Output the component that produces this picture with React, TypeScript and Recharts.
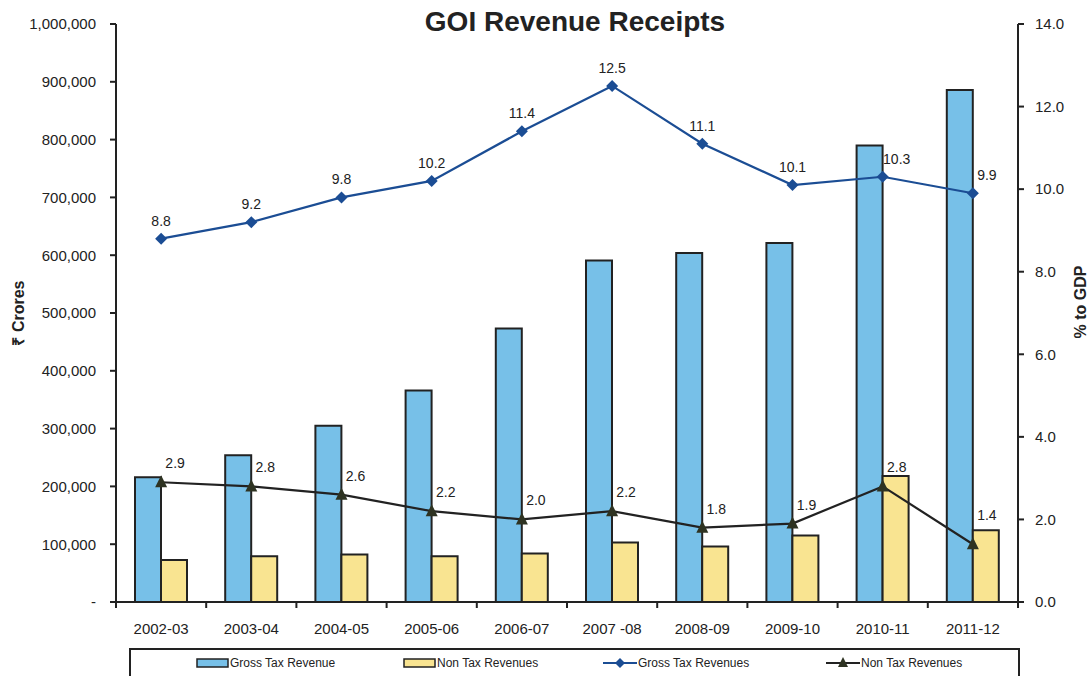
import {
  ComposedChart,
  Bar,
  Line,
  XAxis,
  YAxis,
  LabelList,
} from "recharts";

const categories = [
  "2002-03",
  "2003-04",
  "2004-05",
  "2005-06",
  "2006-07",
  "2007 -08",
  "2008-09",
  "2009-10",
  "2010-11",
  "2011-12",
];
const grossTax = [216000, 254000, 305000, 366000, 473000, 591000, 604000, 621000, 790000, 886000];
const nonTax = [72500, 79000, 82000, 79000, 84000, 103000, 96000, 115000, 218000, 124000];
const grossTaxGdp = [8.8, 9.2, 9.8, 10.2, 11.4, 12.5, 11.1, 10.1, 10.3, 9.9];
const nonTaxGdp = [2.9, 2.8, 2.6, 2.2, 2.0, 2.2, 1.8, 1.9, 2.8, 1.4];

const leftTicks = [0, 100000, 200000, 300000, 400000, 500000, 600000, 700000, 800000, 900000, 1000000];
const rightTicks = [0, 2, 4, 6, 8, 10, 12, 14];

const data = categories.map((year, i) => ({
  year,
  grossTax: grossTax[i],
  nonTax: nonTax[i],
  grossTaxGdp: grossTaxGdp[i],
  nonTaxGdp: nonTaxGdp[i],
}));

const FONT = "'Liberation Sans', Arial, Helvetica, sans-serif";
const INK = "#222";
const BLUE_FILL = "#77C0E8";
const YELLOW_FILL = "#F9E491";
const LINE_BLUE = "#1B4D94";
const LINE_DARK = "#222";
const TRI_FILL = "#2E3322";

const PLOT_W = 902;
const HALF_BAND = PLOT_W / categories.length / 2;

const XTick = (props: any) => {
  const { x, y, payload, index } = props;
  return (
    <g>
      <line x1={x - HALF_BAND} x2={x - HALF_BAND} y1={y} y2={y + 6} stroke={INK} strokeWidth={2} />
      {index === categories.length - 1 && (
        <line x1={x + HALF_BAND} x2={x + HALF_BAND} y1={y} y2={y + 6} stroke={INK} strokeWidth={2} />
      )}
      <text x={x} y={y + 32} textAnchor="middle" fontSize={15} fill={INK} fontFamily={FONT}>
        {payload.value}
      </text>
    </g>
  );
};

const Diamond = (props: any) => {
  const { cx, cy } = props;
  if (cx == null || cy == null) return null;
  return (
    <polygon
      points={`${cx},${cy - 6} ${cx + 6},${cy} ${cx},${cy + 6} ${cx - 6},${cy}`}
      fill={LINE_BLUE}
    />
  );
};

const Triangle = (props: any) => {
  const { cx, cy } = props;
  if (cx == null || cy == null) return null;
  return (
    <polygon
      points={`${cx},${cy - 7} ${cx + 6},${cy + 5} ${cx - 6},${cy + 5}`}
      fill={TRI_FILL}
    />
  );
};

const blueLabel = (props: any) => {
  const { x, y, value, index } = props;
  const dx = index >= 8 ? 14 : 0;
  return (
    <text x={x + dx} y={y - 13} textAnchor="middle" fontSize={14} fill={INK} fontFamily={FONT}>
      {Number(value).toFixed(1)}
    </text>
  );
};

const darkLabel = (props: any) => {
  const { x, y, value, index } = props;
  // last label sits higher above its marker in the original
  const dy = index === categories.length - 1 ? -24 : -14;
  return (
    <text x={x + 14} y={y + dy} textAnchor="middle" fontSize={14} fill={INK} fontFamily={FONT}>
      {Number(value).toFixed(1)}
    </text>
  );
};

const LegendItem = ({ left, icon, text }: { left: number; icon: any; text: string }) => (
  <div
    style={{
      position: "absolute",
      left,
      top: 0,
      height: 26,
      display: "flex",
      alignItems: "center",
      fontSize: 12,
      color: INK,
      fontFamily: FONT,
      whiteSpace: "nowrap",
    }}
  >
    {icon}
    <span style={{ marginLeft: 1 }}>{text}</span>
  </div>
);

const barIcon = (fill: string) => (
  <svg width={33} height={10}>
    <rect x={1} y={1} width={31} height={8} fill={fill} stroke={INK} strokeWidth={1.5} />
  </svg>
);

const lineIcon = (kind: "diamond" | "triangle") => (
  <svg width={34} height={14}>
    <line x1={0} x2={34} y1={7} y2={7} stroke={kind === "diamond" ? LINE_BLUE : LINE_DARK} strokeWidth={2} />
    {kind === "diamond" ? (
      <polygon points="17,2 22,7 17,12 12,7" fill={LINE_BLUE} />
    ) : (
      <polygon points="17,1 22,11 12,11" fill={TRI_FILL} />
    )}
  </svg>
);

export default function App() {
  return (
    <div
      style={{
        position: "absolute",
        left: 0,
        top: 0,
        width: 1092,
        height: 676,
        overflow: "hidden",
        background: "#fff",
        fontFamily: FONT,
      }}
    >
      <div
        style={{
          position: "absolute",
          left: 0,
          top: 0,
          width: 1150,
          textAlign: "center",
          lineHeight: "44px",
          fontSize: 28,
          fontWeight: "bold",
          color: INK,
          zIndex: 2,
        }}
      >
        GOI Revenue Receipts
      </div>

      <ComposedChart
        width={1092}
        height={676}
        data={data}
        margin={{ top: 24, right: 0, bottom: 44, left: 0 }}
        barGap={0}
      >
        <XAxis
          dataKey="year"
          height={30}
          tickSize={0}
          tickMargin={0}
          tickLine={false}
          axisLine={{ stroke: INK, strokeWidth: 2 }}
          tick={XTick}
          interval={0}
        />
        <YAxis
          yAxisId="left"
          width={116}
          domain={[0, 1000000]}
          ticks={leftTicks}
          interval={0}
          tickSize={6}
          tickMargin={14}
          tickFormatter={(v: number) => (v === 0 ? "-" : v.toLocaleString("en-US"))}
          tick={{ fontSize: 15, fill: INK, fontFamily: FONT }}
          axisLine={{ stroke: INK, strokeWidth: 2 }}
          tickLine={{ stroke: INK, strokeWidth: 2 }}
          label={{
            content: () => (
              <text
                x={24}
                y={313}
                transform="rotate(-90 24 313)"
                textAnchor="middle"
                fontSize={16}
                fontWeight="bold"
                fill={INK}
                fontFamily={FONT}
              >
                ₹ Crores
              </text>
            ),
          }}
        />
        <YAxis
          yAxisId="right"
          orientation="right"
          width={74}
          domain={[0, 14]}
          ticks={rightTicks}
          interval={0}
          tickSize={6}
          tickMargin={11}
          tickFormatter={(v: number) => v.toFixed(1)}
          tick={{ fontSize: 15, fill: INK, fontFamily: FONT }}
          axisLine={{ stroke: INK, strokeWidth: 2 }}
          tickLine={{ stroke: INK, strokeWidth: 2 }}
          label={{
            content: () => (
              <text
                x={1086}
                y={302}
                transform="rotate(-90 1086 302)"
                textAnchor="middle"
                fontSize={16}
                fontWeight="bold"
                fill={INK}
                fontFamily={FONT}
              >
                % to GDP
              </text>
            ),
          }}
        />
        <Bar
          yAxisId="left"
          dataKey="grossTax"
          name="Gross Tax Revenue"
          fill={BLUE_FILL}
          stroke={INK}
          strokeWidth={2}
          barSize={26}
          isAnimationActive={false}
        />
        <Bar
          yAxisId="left"
          dataKey="nonTax"
          name="Non Tax Revenues"
          fill={YELLOW_FILL}
          stroke={INK}
          strokeWidth={2}
          barSize={26}
          isAnimationActive={false}
        />
        <Line
          yAxisId="right"
          dataKey="grossTaxGdp"
          name="Gross Tax Revenues"
          stroke={LINE_BLUE}
          strokeWidth={2.2}
          dot={<Diamond />}
          activeDot={false}
          isAnimationActive={false}
        >
          <LabelList dataKey="grossTaxGdp" content={blueLabel} />
        </Line>
        <Line
          yAxisId="right"
          dataKey="nonTaxGdp"
          name="Non Tax Revenues"
          stroke={LINE_DARK}
          strokeWidth={2.2}
          dot={<Triangle />}
          activeDot={false}
          isAnimationActive={false}
        >
          <LabelList dataKey="nonTaxGdp" content={darkLabel} />
        </Line>
      </ComposedChart>

      <div
        style={{
          position: "absolute",
          left: 129,
          top: 648,
          width: 891,
          height: 40,
          border: `2px solid ${INK}`,
          boxSizing: "border-box",
        }}
      >
        <LegendItem left={65} icon={barIcon(BLUE_FILL)} text="Gross Tax Revenue" />
        <LegendItem left={272} icon={barIcon(YELLOW_FILL)} text="Non Tax Revenues" />
        <LegendItem left={472} icon={lineIcon("diamond")} text="Gross Tax Revenues" />
        <LegendItem left={695} icon={lineIcon("triangle")} text="Non Tax Revenues" />
      </div>
    </div>
  );
}
